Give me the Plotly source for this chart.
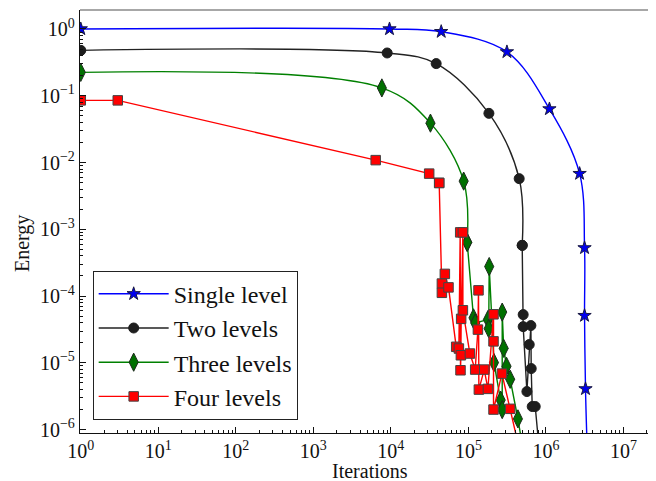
import plotly.graph_objects as go

# ---------------- data ----------------
x_tick_vals = [1, 10, 100, 1e3, 1e4, 1e5, 1e6, 1e7]
x_tick_text = ["10<sup>0</sup>", "10<sup>1</sup>", "10<sup>2</sup>", "10<sup>3</sup>",
               "10<sup>4</sup>", "10<sup>5</sup>", "10<sup>6</sup>", "10<sup>7</sup>"]
y_tick_vals = [1e-6, 1e-5, 1e-4, 1e-3, 1e-2, 1e-1, 1]
y_tick_text = ["10<sup>\u22126</sup>", "10<sup>\u22125</sup>", "10<sup>\u22124</sup>",
               "10<sup>\u22123</sup>", "10<sup>\u22122</sup>", "10<sup>\u22121</sup>",
               "10<sup>0</sup>"]
x_title = "Iterations"
y_title = "Energy"

series_names = ["Single level", "Two levels", "Three levels", "Four levels"]

# Single level
single_x = [1, 9600, 44600, 314000, 1.11e6, 2.72e6, 3.15e6, 3.15e6, 3.24e6, 3.41e6]
single_y = [1.0, 1.0, 0.911, 0.453, 0.0634, 0.00682, 5.27e-4, 5.10e-5, 4.08e-6, 5e-7]

# Two levels
two_x = [1, 8960, 38400, 183900, 452000, 494500,
         509000, 509000, 568500, 609000, 640000, 646000, 665600, 727800, 820000]
two_y = [0.478, 0.437, 0.303, 0.0545, 0.00574, 5.75e-4,
         5.28e-5, 3.49e-5, 3.72e-6, 1.88e-5, 3.62e-5, 8.22e-6, 2.22e-6, 2.22e-6, 5e-7]

# Three levels
three_x = [1, 7650, 32400, 86900, 96500,
           116400, 122400, 178500, 182800, 185500, 213800, 261000, 273000, 273000,
           285300, 310300, 346000, 435300, 508000]
three_y = [0.224, 0.131, 0.0389, 0.00527, 6.38e-4,
           4.72e-5, 3.97e-5, 4.45e-5, 3.26e-5, 2.77e-4, 1.01e-5, 2.77e-6, 2.0e-6, 5.76e-5,
           1.65e-5, 8.89e-6, 5.68e-6, 1.45e-6, 5e-7]

# Four levels
four_x = [1, 3, 6370, 31200, 42000,
          45500, 45500, 49700, 55400, 69600, 75400, 78400, 79100, 80000, 80700,
          84900, 84900, 104500, 122400, 132700, 135000, 136500, 160000, 178500,
          210900, 210900, 210900, 270600, 346000, 456000]
four_y = [0.0853, 0.0853, 0.01086, 0.00682, 0.00495,
          1.54e-4, 1.12e-4, 2.15e-4, 1.35e-4, 1.74e-5, 1.64e-5, 9.0e-4, 7.75e-6, 1.30e-5, 4.56e-5,
          9.0e-4, 6.13e-5, 1.38e-5, 7.94e-6, 3.15e-5, 1.22e-4, 3.98e-6, 7.94e-6, 4.08e-6,
          5.34e-5, 2.10e-5, 2.0e-6, 6.91e-6, 2.05e-6, 5e-7]

# number of leading points drawn as a smooth curve
smooth_counts = [len(single_x), 6, 5, 5]

# ---------------- style ----------------
FONT = "Liberation Serif, Times New Roman, serif"
INK = "#111111"
styles = [
    dict(color="#0000ff", symbol="star", size=10, fill="#0000ee", outline="#1a1a40", head="spline"),
    dict(color="#222222", symbol="circle", size=10, fill="#1e1e1e", outline="#1e1e1e", head="spline"),
    dict(color="#008000", symbol="diamond-tall", size=13, fill="#007000", outline="#1c2a1c", head="spline"),
    dict(color="#ff0000", symbol="square", size=9.5, fill="#ff0000", outline="#444444", head="linear"),
]

fig = go.Figure()
data = [(single_x, single_y), (two_x, two_y), (three_x, three_y), (four_x, four_y)]
for name, (xs, ys), n, st in zip(series_names, data, smooth_counts, styles):
    marker = dict(symbol=st["symbol"], size=st["size"], color=st["fill"],
                  line=dict(color=st["outline"], width=1))
    fig.add_trace(go.Scatter(
        x=xs[:n], y=ys[:n], mode="lines+markers", name=name, legendgroup=name,
        line=dict(color=st["color"], width=1.4, shape=st["head"], smoothing=1.0),
        marker=marker, showlegend=True))
    if n < len(xs):
        fig.add_trace(go.Scatter(
            x=xs[n - 1:], y=ys[n - 1:], mode="lines+markers", name=name, legendgroup=name,
            line=dict(color=st["color"], width=1.4), marker=marker, showlegend=False))

axis_common = dict(
    type="log", showgrid=False, zeroline=False, showline=True, linecolor=INK,
    linewidth=1.3, ticks="inside", ticklen=6, tickwidth=1, tickcolor=INK,
    tickfont=dict(family=FONT, size=20, color=INK), automargin=False,
    minor=dict(ticks="inside", ticklen=3, tickwidth=1, tickcolor=INK, dtick="D1", showgrid=False),
)

fig.update_xaxes(**axis_common, range=[-0.01, 7.42], tickmode="array",
                 tickvals=x_tick_vals, ticktext=x_tick_text)
fig.update_yaxes(**axis_common, range=[-6.05, 0.284], tickmode="array",
                 tickvals=y_tick_vals, ticktext=y_tick_text)

fig.add_shape(type="line", xref="paper", yref="paper", x0=0, x1=1, y0=1, y1=1,
              line=dict(color="#8a8a8a", width=1.5))

# axis titles
fig.add_annotation(text=x_title, xref="paper", yref="paper", x=0.503, y=-0.09,
                   xanchor="center", yanchor="middle", showarrow=False,
                   font=dict(family=FONT, size=20, color=INK))
fig.add_annotation(text=y_title, xref="paper", yref="paper", x=-0.1007, y=0.449,
                   xanchor="center", yanchor="middle", showarrow=False, textangle=-90,
                   font=dict(family=FONT, size=20, color=INK))

# the page adds an 8px body margin, so the figure is sized to fit the window
fig.update_layout(
    width=648, height=473,
    margin=dict(l=72, r=0, t=2, b=48),
    plot_bgcolor="white", paper_bgcolor="white",
    font=dict(family=FONT, size=20, color=INK),
    legend=dict(x=0.022, y=0.3837, xanchor="left", yanchor="top",
                bordercolor="#222222", borderwidth=1, bgcolor="white",
                font=dict(family=FONT, size=24, color=INK),
                itemwidth=70, tracegroupgap=0, traceorder="grouped",
                entrywidth=218, entrywidthmode="pixels"),
)

fig.write_html("out.html")
